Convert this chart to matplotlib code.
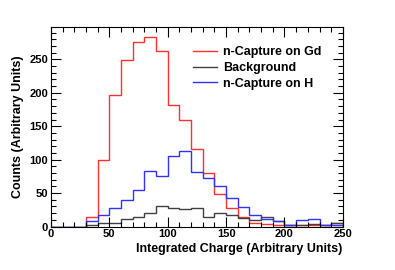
import matplotlib
matplotlib.use("Agg")
import matplotlib.pyplot as plt
import numpy as np
from matplotlib.ticker import MultipleLocator

edges = list(range(0, 260, 10))
gd = [0, 0, 0, 14, 100, 197, 249, 276, 283, 263, 182, 160, 116, 80, 49, 28, 15, 5, 4, 3, 3, 3, 3, 2, 5]
bkg = [0, 0, 0, 2, 5, 6, 11, 14, 20, 30, 28, 26, 27, 15, 20, 17, 13, 10, 14, 8, 3, 3, 4, 2, 5]
hyd = [0, 0, 0, 8, 17, 28, 39, 55, 83, 75, 106, 113, 82, 73, 60, 42, 29, 17, 11, 9, 3, 10, 11, 2, 3]
labels = ["n-Capture on Gd", "Background", "n-Capture on H"]

plt.rcParams['font.family'] = ['Liberation Sans', 'DejaVu Sans']
fig = plt.figure(figsize=(3.95, 2.70), dpi=100)
ax = fig.add_axes([0.129, 0.161, 0.739, 0.738])

ax.stairs(gd, edges, color='#ff3030', lw=1.0, label=labels[0])
ax.stairs(bkg, edges, color='#404040', lw=1.0, label=labels[1])
ax.stairs(hyd, edges, color='#3030ff', lw=1.0, label=labels[2])

ax.set_xlim(0, 250)
ax.set_ylim(0, 298)
ax.xaxis.set_major_locator(MultipleLocator(50))
ax.xaxis.set_minor_locator(MultipleLocator(10))
ax.yaxis.set_major_locator(MultipleLocator(50))
ax.yaxis.set_minor_locator(MultipleLocator(10))
ax.tick_params(which='both', direction='in', top=True, right=True, labelsize=8, width=0.8)
ax.tick_params(which='major', length=7)
ax.tick_params(which='minor', length=3.5)
for lab in ax.get_xticklabels() + ax.get_yticklabels():
    lab.set_fontweight('bold')
ax.tick_params(axis='x', pad=2)
ax.tick_params(axis='y', pad=2)
for s in ax.spines.values():
    s.set_linewidth(0.8)

ax.set_xlabel("Integrated Charge (Arbitrary Units)", fontsize=9, fontweight='bold', loc='right', labelpad=3)
ax.set_ylabel("Counts (Arbitrary Units)", fontsize=9, fontweight='bold', loc='center', labelpad=4)

leg = ax.legend(loc='upper left', bbox_to_anchor=(0.469, 0.93), frameon=False, fontsize=9,
                handlelength=1.92, handletextpad=0.5, labelspacing=0.3, borderaxespad=0)
for t in leg.get_texts():
    t.set_fontweight('bold')

fig.savefig("out.png", dpi=100)
